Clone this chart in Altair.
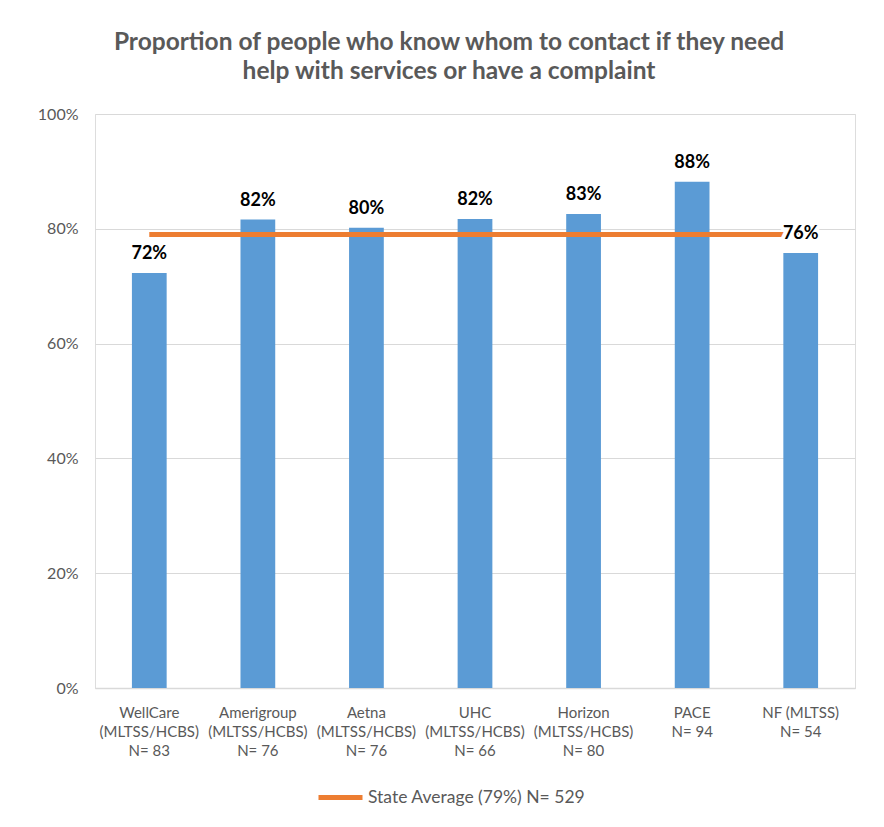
import altair as alt
import pandas as pd

# ---- data ----
plans = ["WellCare", "Amerigroup", "Aetna", "UHC", "Horizon", "PACE", "NF (MLTSS)"]
programs = ["(MLTSS/HCBS)", "(MLTSS/HCBS)", "(MLTSS/HCBS)", "(MLTSS/HCBS)", "(MLTSS/HCBS)", "", ""]
sample_n = [83, 76, 76, 66, 80, 94, 54]
proportions = [0.723, 0.816, 0.802, 0.817, 0.826, 0.882, 0.758]
state_average = 0.79
state_label = "State Average (79%) N= 529"
title_lines = ["Proportion of people who know whom to contact if they need",
               "help with services or have a complaint"]

cats = ["\n".join([p for p in (name, prog, f"N= {n}") if p])
        for name, prog, n in zip(plans, programs, sample_n)]

df = pd.DataFrame({"cat": cats, "value": proportions})
avg_df = pd.DataFrame({"cat": cats, "avg": [state_average] * len(cats),
                       "series": [state_label] * len(cats)})

FONT = "Lato"
GRAY = "#595959"

x_enc = alt.X("cat:N", sort=cats,
              scale=alt.Scale(paddingInner=0.68, paddingOuter=0.34),
              axis=alt.Axis(title=None, labelAngle=0, ticks=False,
                            domainColor="#D9D9D9", domainWidth=1.5,
                            labelColor=GRAY, labelFontSize=15, labelFont=FONT,
                            labelLineHeight=19, labelPadding=17,
                            labelExpr="split(datum.label, '\\n')"))

y_scale = alt.Scale(domain=[0, 1])

bars = alt.Chart(df).mark_bar(color="#5B9BD5").encode(
    x=x_enc,
    y=alt.Y("value:Q", scale=y_scale,
            axis=alt.Axis(title=None, format=".0%", values=[0, 0.2, 0.4, 0.6, 0.8, 1.0],
                          domain=False, ticks=False, gridColor="#D9D9D9",
                          labelColor=GRAY, labelFontSize=16, labelFont=FONT,
                          labelPadding=17)),
)

line = alt.Chart(avg_df).mark_line(strokeWidth=5).encode(
    x=alt.X("cat:N", sort=cats),
    y=alt.Y("avg:Q", scale=y_scale),
    color=alt.Color("series:N",
                    scale=alt.Scale(domain=[state_label], range=["#ED7D31"]),
                    legend=alt.Legend(title=None, orient="none", legendX=221, legendY=659,
                                      symbolType="stroke", symbolSize=1936,
                                      symbolStrokeWidth=5, labelFontSize=17.5,
                                      labelFont=FONT, labelColor=GRAY, labelOffset=3,
                                      labelLimit=0)),
)

halo = alt.Chart(df).mark_text(baseline="alphabetic", dy=-14, fontSize=18,
                               fontWeight="bold", font=FONT, fill="white",
                               stroke="white", strokeWidth=8).encode(
    x=alt.X("cat:N", sort=cats),
    y=alt.Y("value:Q", scale=y_scale),
    text=alt.Text("value:Q", format=".0%"),
)

labels = alt.Chart(df).mark_text(baseline="alphabetic", dy=-14, fontSize=18,
                                 fontWeight="bold", font=FONT, color="black").encode(
    x=alt.X("cat:N", sort=cats),
    y=alt.Y("value:Q", scale=y_scale),
    text=alt.Text("value:Q", format=".0%"),
)

chart = alt.layer(bars, line, halo, labels).properties(
    width=760,
    height=574,
    title=alt.TitleParams(text=title_lines, fontSize=24.5, font=FONT, fontWeight="bold",
                          color=GRAY, lineHeight=29, anchor="middle", offset=22, dx=-26),
    autosize=alt.AutoSizeParams(type="none"),
    padding={"left": 87, "top": 106, "right": 21, "bottom": 131},
).configure_view(stroke=None).configure(background="white")

chart.save("out.html", embed_options={"renderer": "svg", "actions": False})
